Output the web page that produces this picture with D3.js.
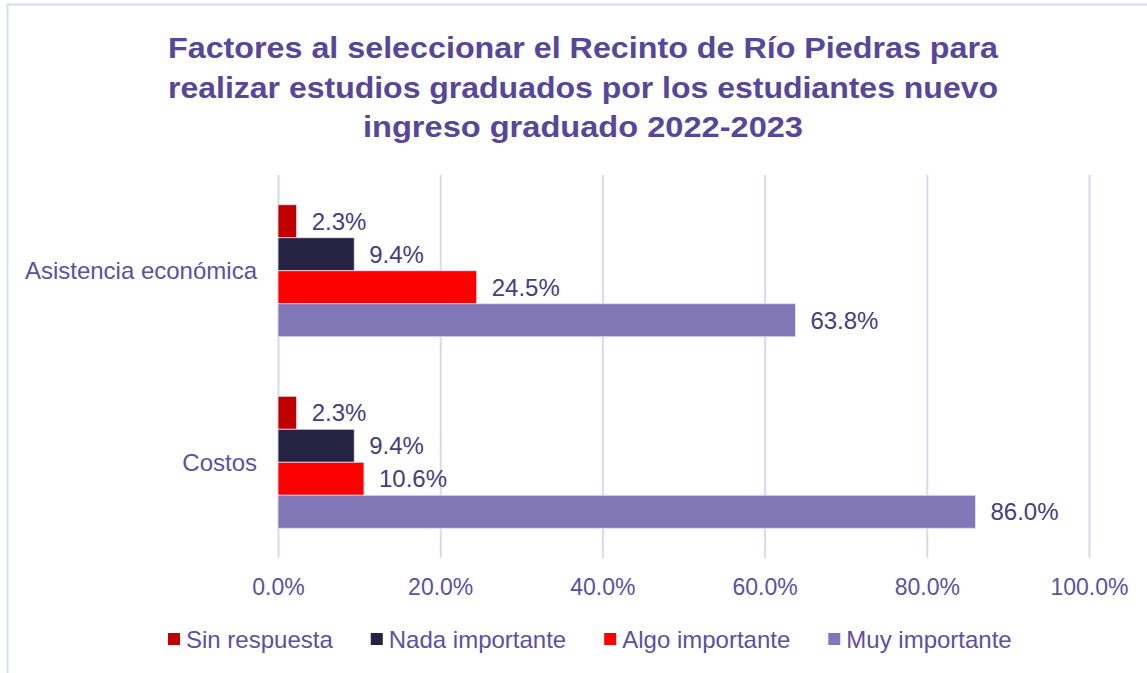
<!DOCTYPE html>
<html><head><meta charset="utf-8">
<script src="https://cdn.jsdelivr.net/npm/d3@7"></script>
<style>body{margin:0;background:#fff;} svg{display:block;}</style>
</head><body>
<svg id="c" width="1147" height="673"></svg>
<script>
const titleLines = ["Factores al seleccionar el Recinto de Río Piedras para",
  "realizar estudios graduados por los estudiantes nuevo",
  "ingreso graduado 2022-2023"];
const categories = ["Asistencia económica", "Costos"];
const seriesNames = ["Sin respuesta", "Nada importante", "Algo importante", "Muy importante"];
const seriesColors = ["#C00000", "#262241", "#FF0000", "#8278B8"];
const sinRespuesta = [2.3, 2.3];
const nadaImportante = [9.4, 9.4];
const algoImportante = [24.5, 10.6];
const muyImportante = [63.8, 86.0];
const tickValues = [0, 20, 40, 60, 80, 100];

const seriesValues = [sinRespuesta, nadaImportante, algoImportante, muyImportante];
const svg = d3.select("#c");
const font = "'Liberation Sans', Arial, sans-serif";

// frame
svg.append("path").attr("d","M7.5,673 L7.5,4.5 L1147,4.5").attr("fill","none").attr("stroke","#D9D9F0").attr("stroke-width",2);

// title
const tW = [830, 830, 440];
svg.append("g").selectAll("text").data(titleLines).join("text")
  .attr("x", 583).attr("y", (d,i)=>58 + i*39.5)
  .attr("text-anchor","middle").attr("font-family", font).attr("font-weight","bold")
  .attr("font-size", 30).attr("fill","#56479A")
  .attr("textLength",(d,i)=>tW[i]).attr("lengthAdjust","spacingAndGlyphs")
  .text(d=>d);

const x = d3.scaleLinear().domain([0,100]).range([278,1089]);
const y0 = d3.scaleBand().domain(categories).range([175,558]);
const gap = (y0.bandwidth() - 132)/2;
const y1 = d3.scaleBand().domain(seriesNames).range([gap, y0.bandwidth()-gap]);

// gridlines via axis
const xAxis = d3.axisBottom(x).tickValues(tickValues).tickSize(-(558-175)).tickFormat(d=>d.toFixed(1)+"%").tickPadding(21);
const ax = svg.append("g").attr("transform","translate(0,558)").call(xAxis);
ax.select(".domain").remove();
ax.selectAll(".tick line").attr("stroke","#D9D9EE").attr("stroke-width",2);
ax.selectAll(".tick text").attr("font-family",font).attr("font-size",23).attr("fill","#5C50A2");

// bars
const groups = svg.append("g").selectAll("g").data(categories).join("g")
  .attr("transform", d=>`translate(0,${y0(d)})`);
groups.each(function(cat, ci){
  const g = d3.select(this);
  const rows = seriesNames.map((s,si)=>({s, si, v: seriesValues[si][ci]}));
  g.selectAll("rect").data(rows).join("rect")
    .attr("x", x(0)).attr("y", d=>y1(d.s))
    .attr("width", d=>x(d.v)-x(0)).attr("height", y1.bandwidth())
    .attr("fill", d=>seriesColors[d.si])
    .attr("stroke","#E4E2F2").attr("stroke-width",0.8);
  g.selectAll("text").data(rows).join("text")
    .attr("x", d=>x(d.v)+15).attr("y", d=>y1(d.s)+y1.bandwidth()/2)
    .attr("dy","0.36em").attr("font-family",font).attr("font-size",24).attr("fill","#463D80")
    .text(d=>d.v.toFixed(1)+"%");
});

// category labels
svg.append("g").selectAll("text").data(categories).join("text")
  .attr("x", 257).attr("y", d=>y0(d)+y0.bandwidth()/2)
  .attr("dy","0.36em").attr("text-anchor","end")
  .attr("font-family",font).attr("font-size",24).attr("fill","#5C50A2")
  .text(d=>d);

// legend
const lg = svg.append("g");
let lx = 168;
seriesNames.forEach((s,i)=>{
  lg.append("rect").attr("x",lx).attr("y",633).attr("width",12).attr("height",12).attr("fill",seriesColors[i]);
  const t = lg.append("text").attr("x",lx+18).attr("y",639).attr("dy","0.36em")
    .attr("font-family",font).attr("font-size",24).attr("fill","#5C50A2").text(s);
  lx += 18 + t.node().getComputedTextLength() + 38;
});
</script>
</body></html>
